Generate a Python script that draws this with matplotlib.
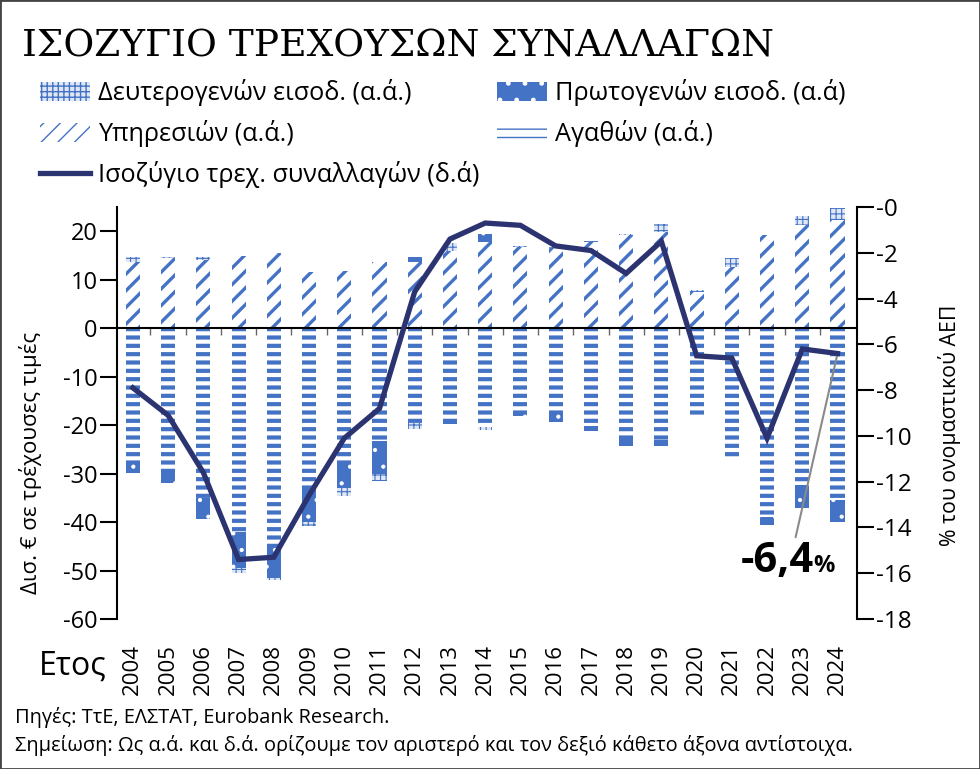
import numpy as np
import matplotlib
matplotlib.use("Agg")
import matplotlib.pyplot as plt
import matplotlib.patches as mpatches
from matplotlib.lines import Line2D

years = [str(y) for y in range(2004, 2025)]

# δισ. ευρώ (αριστερός άξονας)
services = np.array([13.6, 14.4, 14.0, 14.8, 15.5, 11.5, 11.8, 13.6, 13.6, 16.0, 17.7,
                     16.7, 16.5, 17.7, 19.2, 19.8, 7.4, 12.6, 19.2, 21.2, 22.3])
goods = np.array([-27.9, -29.5, -35.1, -42.1, -44.5, -32.8, -27.4, -23.3, -19.6, -19.4, -20.4,
                  -17.3, -17.8, -20.2, -22.5, -23.1, -18.6, -26.6, -39.0, -32.4, -35.5])
primary = np.array([-2.0, -2.5, -4.3, -7.4, -7.0, -7.2, -5.6, -6.7, 1.0, -0.4, 1.8,
                    -0.8, -1.5, -1.0, -1.7, -1.2, 0.0, 0.0, -1.6, -4.7, -4.5])
secondary = np.array([1.0, 0.2, 0.6, -1.0, -0.5, -0.9, -1.6, -1.5, -1.2, 1.5, -0.6,
                      0.2, 0.3, 0.3, 0.3, 1.6, 0.4, 1.8, 0.0, 1.9, 2.5])

# % του ΑΕΠ (δεξιός άξονας)
ca_balance = [-7.9, -9.1, -11.6, -15.4, -15.3, -12.6, -10.1, -8.8, -3.7, -1.4, -0.7,
              -0.8, -1.7, -1.9, -2.9, -1.5, -6.5, -6.6, -10.1, -6.2, -6.4]

left_ticks = [-60, -50, -40, -30, -20, -10, 0, 10, 20]
right_ticks = [0, -2, -4, -6, -8, -10, -12, -14, -16, -18]
right_labels = ['-0', '-2', '-4', '-6', '-8', '-10', '-12', '-14', '-16', '-18']

blue = '#4472c4'
navy = '#2b3470'
sans = ['Open Sans', 'DejaVu Sans']

plt.rcParams['font.family'] = sans

fig = plt.figure(figsize=(9.8, 7.69), dpi=100)
ax = fig.add_axes([0.1194, 0.195, 0.755, 0.5358])
x = np.arange(len(years))
w = 0.4

sec_bottom = np.where(secondary >= 0, services, goods + np.minimum(primary, 0))
prim_bottom = np.where(primary >= 0, services + np.maximum(secondary, 0), goods)

with plt.rc_context({'hatch.linewidth': 3.0}):
    ax.bar(x, goods, w, color='white', edgecolor=blue, hatch='--', lw=0, zorder=2)
with plt.rc_context({'hatch.linewidth': 2.4}):
    ax.bar(x, services, w, color='white', edgecolor=blue, hatch='//', lw=0, zorder=2)
with plt.rc_context({'hatch.linewidth': 0.6}):
    ax.bar(x, primary, w, bottom=prim_bottom, color=blue, edgecolor='white',
           hatch='.', lw=0, zorder=2)
with plt.rc_context({'hatch.linewidth': 0.8}):
    ax.bar(x, secondary, w, bottom=sec_bottom, color='#dfe7f5', edgecolor=blue,
           hatch='+++', lw=0, zorder=2)

ax.set_xlim(-0.45, 20.55)
ax.set_ylim(-60, 25)
ax.spines['top'].set_visible(False)
ax.spines['right'].set_visible(False)
ax.spines['bottom'].set_position(('data', 0))
ax.spines['bottom'].set_linewidth(1.5)
ax.spines['bottom'].set_zorder(4)
ax.spines['left'].set_linewidth(1.5)
ax.set_xticks(x[:-1] + 0.5)
ax.set_xticklabels([])
ax.tick_params(axis='x', length=5, width=1, color='#666666')
ax.set_yticks(left_ticks)
ax.set_yticklabels([str(v) for v in left_ticks], fontsize=17)
ax.tick_params(axis='y', length=12, width=1.5, pad=2)
ax.set_ylabel('Δισ. € σε τρέχουσες τιμές', fontsize=16)
ax.yaxis.set_label_coords(-0.101, 0.38)

secx = ax.secondary_xaxis('bottom')
secx.set_xticks(x)
secx.set_xticklabels(years, rotation=90, fontsize=16)
secx.spines['bottom'].set_visible(False)
secx.tick_params(length=0, pad=18)

ax2 = ax.twinx()
ax2.plot(x, ca_balance, color=navy, lw=3.8, zorder=5, solid_joinstyle='miter')
ax2.set_ylim(-18, 0)
for s in ['top', 'left', 'bottom']:
    ax2.spines[s].set_visible(False)
ax2.spines['right'].set_linewidth(1.5)
ax2.set_yticks(right_ticks)
ax2.set_yticklabels(right_labels, fontsize=17.5)
ax2.tick_params(axis='y', length=12, width=1.5, pad=2)
ax2.set_ylabel('% του ονομαστικού ΑΕΠ', fontsize=15.3, rotation=90)
ax2.yaxis.set_label_coords(1.11, 0.47)

ax2.annotate('-6,4', xy=(x[-1], ca_balance[-1]), xytext=(18.3, -15.5),
             ha='center', va='center', fontsize=30, fontweight='bold',
             arrowprops=dict(arrowstyle='-', color='#8a8a8a', lw=1.5,
                             relpos=(0.72, 0.9), shrinkA=1, shrinkB=0))
ax2.text(19.3, -15.7, '%', ha='left', va='center', fontsize=17, fontweight='bold')

fig.text(0.022, 0.939, 'ΙΣΟΖΥΓΙΟ ΤΡΕΧΟΥΣΩΝ ΣΥΝΑΛΛΑΓΩΝ', fontsize=27,
         family=['DejaVu Serif'], va='center', ha='left')
fig.text(0.04, 0.133, 'Ετος', fontsize=23, va='center', ha='left')
fig.text(0.015, 0.067, 'Πηγές: ΤτΕ, ΕΛΣΤΑΤ, Eurobank Research.', fontsize=14.4,
         va='center')
fig.text(0.015, 0.030, 'Σημείωση: Ως α.ά. και δ.ά. ορίζουμε τον αριστερό και τον δεξιό κάθετο άξονα αντίστοιχα.',
         fontsize=14.4, va='center')

# υπόμνημα
with plt.rc_context({'hatch.linewidth': 0.8}):
    h_sec = mpatches.Patch(facecolor='#dfe7f5', edgecolor=blue, hatch='+++', lw=0,
                           label='Δευτερογενών εισοδ. (α.ά.)')
with plt.rc_context({'hatch.linewidth': 2.4}):
    h_serv = mpatches.Patch(facecolor='white', edgecolor=blue, hatch='//', lw=0,
                            label='Υπηρεσιών (α.ά.)')
with plt.rc_context({'hatch.linewidth': 0.6}):
    h_prim = mpatches.Patch(facecolor=blue, edgecolor='white', hatch='.', lw=0,
                            label='Πρωτογενών εισοδ. (α.ά)')
with plt.rc_context({'hatch.linewidth': 3.0}):
    h_goods = mpatches.Patch(facecolor='white', edgecolor=blue, hatch='--', lw=0,
                             label='Αγαθών (α.ά.)')
h_line = Line2D([], [], color=navy, lw=3.8, label='Ισοζύγιο τρεχ. συναλλαγών (δ.ά)')

fig.legend(handles=[h_sec, h_serv, h_line, h_prim, h_goods], ncol=2,
           loc='upper left', bbox_to_anchor=(0.03, 0.91), frameon=False,
           fontsize=18.2, handlelength=2.0, handleheight=0.8, handletextpad=0.3,
           labelspacing=0.55, columnspacing=0.7, borderaxespad=0)

fig.patches.append(mpatches.Rectangle((0, 0), 1, 1, transform=fig.transFigure,
                                      fill=False, edgecolor='#444444', lw=2))

fig.savefig('out.png', dpi=100)
